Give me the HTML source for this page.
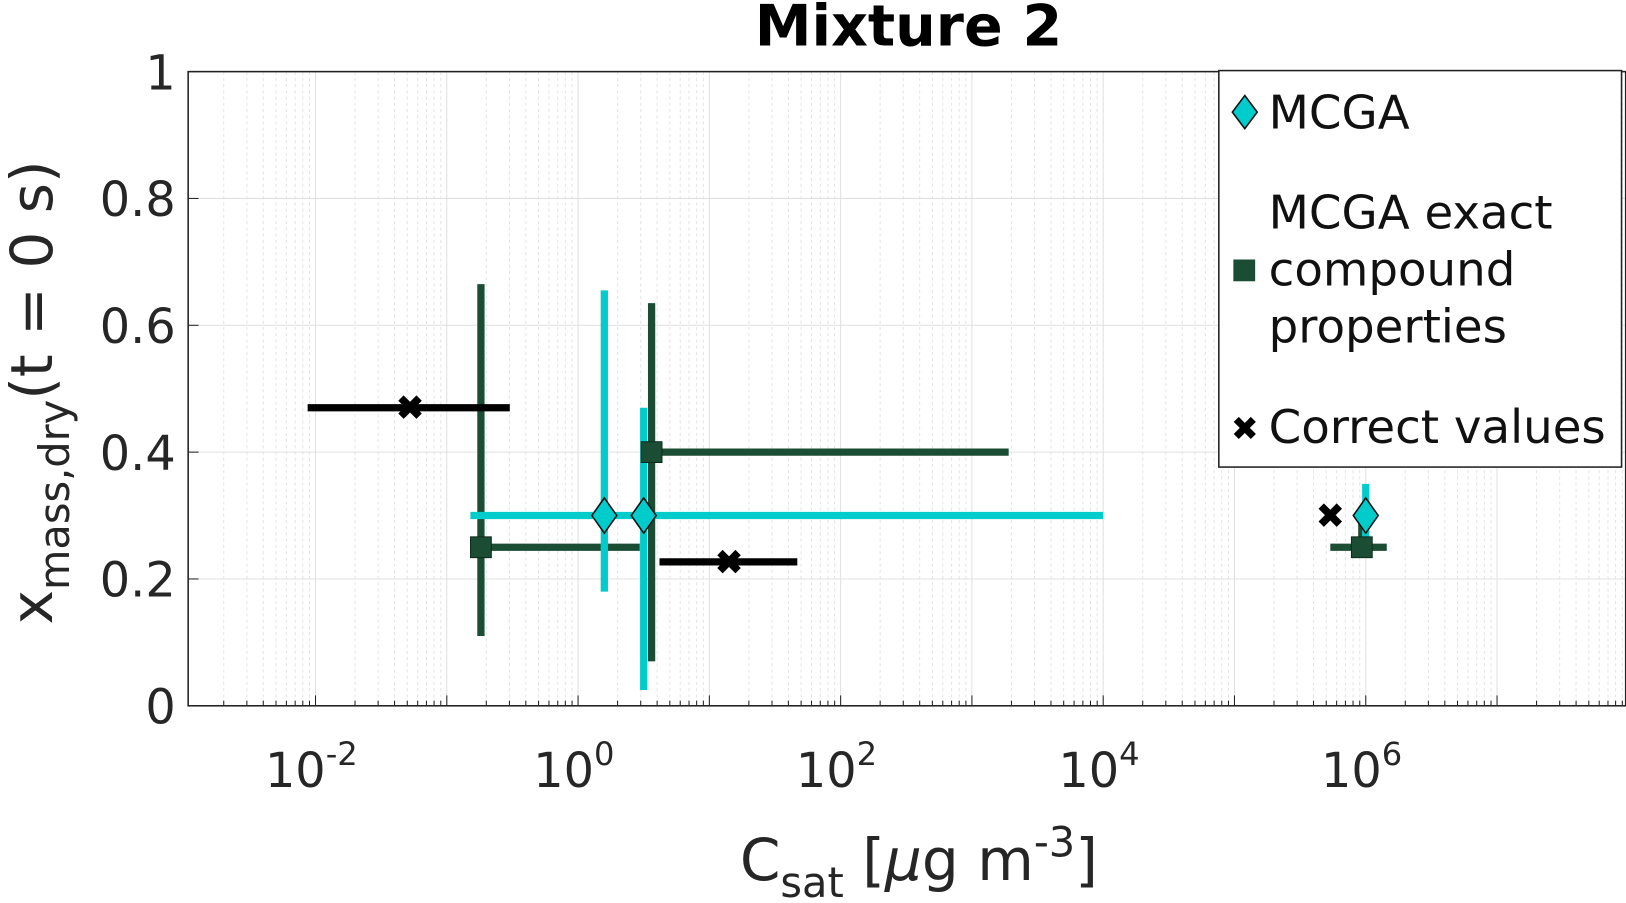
<!DOCTYPE html>
<html><head><meta charset="utf-8"><style>
html,body{margin:0;padding:0;background:#fff;}
svg{display:block;font-family:"DejaVu Sans","Liberation Sans",sans-serif;}
</style></head><body>
<svg id="chart" width="1626" height="903" viewBox="0 0 1566 870">
<text x="875" y="44" font-size="55" font-weight="bold" text-anchor="middle">Mixture 2</text>
<g id="grid"></g>
<g id="ticks"></g>
<g id="marks"></g>
<rect x="181" y="69" width="1385" height="611" fill="none" stroke="#222" stroke-width="1.5"/>
<text x="885" y="848" font-size="56" fill="#262626" text-anchor="middle">C<tspan font-size="40" dy="16">sat</tspan><tspan dy="-16"> [</tspan><tspan font-style="italic">μ</tspan>g m<tspan font-size="40" dy="-23">-3</tspan><tspan dy="23">]</tspan></text>
<text transform="translate(50,378) rotate(-90)" font-size="56" fill="#262626" text-anchor="middle">x<tspan font-size="40" dy="16">mass,dry</tspan><tspan dy="-16">(t = 0 s)</tspan></text>
<g>
<rect x="1174" y="68" width="388" height="382" fill="#fff" stroke="#222" stroke-width="1.5"/>
<g>
<polygon points="1199,92 1211,108 1199,124 1187,108" fill="#00cccc" stroke="#111" stroke-width="1.5"/>
<text x="1222" y="124" font-size="45" fill="#111">MCGA</text></g>
<g>
<rect x="1188" y="250" width="21" height="21" fill="#1b4d35"/>
<text font-size="45" fill="#111"><tspan x="1222" y="220">MCGA exact</tspan><tspan x="1222" y="275">compound</tspan><tspan x="1222" y="330">properties</tspan></text></g>
<g>
<text x="1199" y="424" font-size="32" font-weight="bold" text-anchor="middle" fill="#000">✖</text>
<text x="1222" y="427" font-size="45" fill="#111">Correct values</text></g>
</g>
</svg>
<script>
const NS="http://www.w3.org/2000/svg";
const L=181,R=1566,T=69,B=680,xmin=-2.97,xmax=7.98;
const exactX=[-0.74,0.56,5.97];
const exactY=[0.25,0.40,0.25];
const exactXlo=[-0.74,0.56,5.73];
const exactXhi=[0.47,3.28,6.16];
const exactYlo=[0.11,0.07,0.25];
const exactYhi=[0.665,0.635,0.29];
const corrX=[-1.28,1.15,5.73];
const corrY=[0.47,0.227,0.30];
const corrXlo=[-2.06,0.62,5.73];
const corrXhi=[-0.52,1.67,5.73];
const xTickExp=[-2,0,2,4,6];
const yTicks=[0,0.2,0.4,0.6,0.8,1];
const mX=[0.2,0.5,6.0], mY=[0.30,0.30,0.30], mXlo=[0.2,-0.82,5.94], mXhi=[0.2,4.0,6.06], mYlo=[0.18,0.025,0.25], mYhi=[0.655,0.47,0.35];
function sx(v){return L+(v-xmin)/(xmax-xmin)*(R-L);}
function sy(v){return B-v*(B-T);}
function el(tag,attrs,parent){const e=document.createElementNS(NS,tag);for(const k in attrs)e.setAttribute(k,attrs[k]);parent.appendChild(e);return e;}
const grid=document.getElementById('grid'),ticks=document.getElementById('ticks'),marks=document.getElementById('marks');
for(let d=-3;d<=7;d++){for(let m=1;m<10;m++){const v=d+Math.log10(m);if(v<xmin||v>xmax)continue;const x=sx(v);
const g=el('line',{x1:x,x2:x,y1:T,y2:B,stroke:m===1?'#e0e0e0':'#e4e4e4','stroke-width':1,'stroke-dasharray':m===1?'':'3,3'},grid);


el('line',{x1:x,x2:x,y1:B,y2:B-(m===1?10:5),stroke:'#222'},ticks);}}
yTicks.forEach(t=>{const y=sy(t);
const g=el('line',{x1:L,x2:R,y1:y,y2:y,stroke:'#e0e0e0'},grid);


el('line',{x1:L,x2:L+10,y1:y,y2:y,stroke:'#222'},ticks);
const tx=el('text',{x:L-12,y:y+17,'font-size':46,'text-anchor':'end',fill:'#262626'},ticks);tx.textContent=String(t);

});
xTickExp.forEach(e=>{const x=sx(e);
const tx=el('text',{x:x-4,y:758,'font-size':46,'text-anchor':'middle',fill:'#262626'},ticks);
tx.innerHTML='10<tspan font-size="31" dy="-21">'+e+'</tspan>';

});
function bars(X,Y,xl,xh,yl,yh,col,name){for(let i=0;i<X.length;i++){
if(xh[i]>xl[i]){const h=el('line',{x1:sx(xl[i]),x2:sx(xh[i]),y1:sy(Y[i]),y2:sy(Y[i]),stroke:col,'stroke-width':7},marks);

}
if(yh&&yh[i]>yl[i]){const v=el('line',{x1:sx(X[i]),x2:sx(X[i]),y1:sy(yl[i]),y2:sy(yh[i]),stroke:col,'stroke-width':7},marks);

}}}
bars(exactX,exactY,exactXlo,exactXhi,exactYlo,exactYhi,'#1b4d35','exact');
bars(mX,mY,mXlo,mXhi,mYlo,mYhi,'#00cccc','mcga');
bars(corrX,corrY,corrXlo,corrXhi,null,null,'#000','correct');
for(let i=0;i<exactX.length;i++){const x=sx(exactX[i]),y=sy(exactY[i]);
const r=el('rect',{x:x-10,y:y-10,width:20,height:20,fill:'#1b4d35',stroke:'#0d2a1c','stroke-width':1},marks);

}
for(let i=0;i<mX.length;i++){const x=sx(mX[i]),y=sy(mY[i]);
const p=el('polygon',{points:`${x},${y-17} ${x+12},${y} ${x},${y+17} ${x-12},${y}`,fill:'#00cccc',stroke:'#111','stroke-width':1.5},marks);

}
for(let i=0;i<corrX.length;i++){const x=sx(corrX[i]),y=sy(corrY[i]);
const t=el('text',{x:x,y:y+12,'font-size':34,'font-weight':'bold','text-anchor':'middle',fill:'#000'},marks);t.textContent='✖';

}
</script>
</body></html>
